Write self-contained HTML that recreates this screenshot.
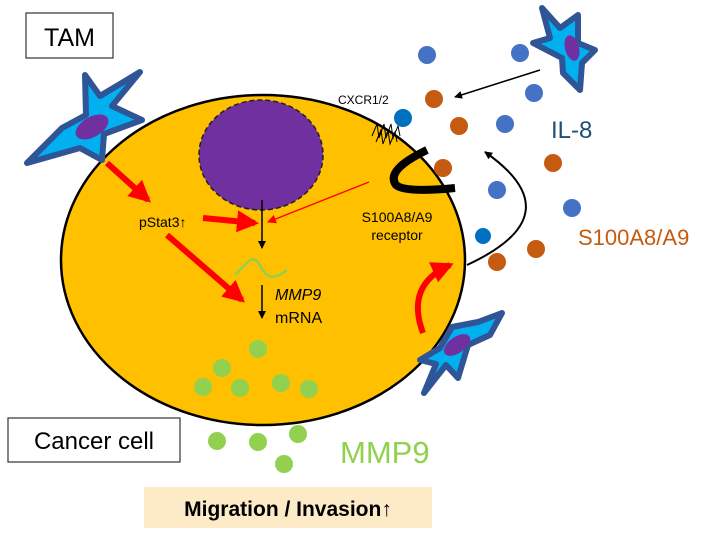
<!DOCTYPE html>
<html><head><meta charset="utf-8"><style>
html,body{margin:0;padding:0;background:#fff;}
svg{display:block;font-family:"Liberation Sans",Arial,sans-serif;}
</style></head><body>
<svg width="715" height="535" viewBox="0 0 715 535" xmlns="http://www.w3.org/2000/svg">
<defs>
<marker id="ab" markerWidth="8" markerHeight="8" refX="7" refY="4" orient="auto" markerUnits="userSpaceOnUse"><path d="M0,0 L8,4 L0,8 z" fill="#000"/></marker>
<marker id="ar" markerWidth="22" markerHeight="22" refX="18" refY="11" orient="auto" markerUnits="userSpaceOnUse"><path d="M0,0 L22,11 L0,22 z" fill="#f00"/></marker>
<marker id="ars" markerWidth="9" markerHeight="9" refX="8" refY="4.5" orient="auto" markerUnits="userSpaceOnUse"><path d="M0,0 L9,4.5 L0,9 z" fill="#f00"/></marker>
</defs>
<!-- TAM box -->
<rect x="26" y="13" width="87" height="45" fill="#fff" stroke="#333" stroke-width="1.2"/>
<text x="69.5" y="46" font-size="25" text-anchor="middle">TAM</text>
<!-- cell -->
<ellipse cx="263" cy="260" rx="202" ry="165" fill="#ffc000" stroke="#000" stroke-width="2.5"/>
<ellipse cx="261" cy="155" rx="62" ry="55" fill="#7030a0" stroke="#222" stroke-width="1.5" stroke-dasharray="5,3"/>
<!-- TAM top-left -->
<polygon points="27,163 62,128 86,115 85,75 100,96 140,72 112,106 142,120 104,134 102,160 80,148" fill="#00b0f0" stroke="#2f5597" stroke-width="6" stroke-linejoin="round"/>
<ellipse cx="92" cy="127" rx="18" ry="10" transform="rotate(-30 92 127)" fill="#7030a0"/>
<!-- TAM top-right -->
<polygon points="542,8 560,28 578,15 578,43 595,50 582,63 580,90 563,73 562,58 533,43 550,38" fill="#00b0f0" stroke="#2f5597" stroke-width="6" stroke-linejoin="round"/>
<ellipse cx="572" cy="48" rx="7" ry="13" transform="rotate(-15 572 48)" fill="#7030a0"/>
<!-- TAM bottom-right -->
<polygon points="502,313 490,335 468,345 458,378 446,365 424,393 436,364 420,360 440,348 452,327 478,322" fill="#00b0f0" stroke="#2f5597" stroke-width="6" stroke-linejoin="round"/>
<ellipse cx="457" cy="345" rx="15" ry="8" transform="rotate(-35 457 345)" fill="#7030a0"/>
<!-- red arrows -->
<line x1="107" y1="163" x2="148" y2="200" stroke="#f00" stroke-width="6" marker-end="url(#ar)"/>
<line x1="203" y1="218" x2="255" y2="223" stroke="#f00" stroke-width="6" marker-end="url(#ar)"/>
<line x1="167" y1="235" x2="242" y2="300" stroke="#f00" stroke-width="6" marker-end="url(#ar)"/>
<line x1="369" y1="182" x2="268" y2="222" stroke="#f00" stroke-width="1.3" marker-end="url(#ars)"/>
<path d="M423,333 Q405,285 450,265" fill="none" stroke="#f00" stroke-width="6" marker-end="url(#ar)"/>
<!-- black arrows -->
<line x1="262" y1="200" x2="262" y2="248" stroke="#000" stroke-width="1.5" marker-end="url(#ab)"/>
<line x1="262" y1="285" x2="262" y2="318" stroke="#000" stroke-width="1.5" marker-end="url(#ab)"/>
<line x1="540" y1="70" x2="455" y2="97" stroke="#000" stroke-width="1.5" marker-end="url(#ab)"/>
<path d="M467,265 Q575,215 485,152" fill="none" stroke="#000" stroke-width="2" marker-end="url(#ab)"/>
<!-- green wave -->
<path d="M235,275 C248,262 252,255 258,262 C264,272 268,285 287,270" fill="none" stroke="#92d050" stroke-width="2.5"/>
<!-- texts -->
<text x="139" y="227" font-size="14">pStat3↑</text>
<text x="275" y="300" font-size="16" font-style="italic">MMP9</text>
<text x="275" y="323" font-size="16">mRNA</text>
<text x="397" y="222" font-size="14" text-anchor="middle">S100A8/A9</text>
<text x="397" y="240" font-size="14" text-anchor="middle">receptor</text>
<text x="338" y="104" font-size="12">CXCR1/2</text>
<text x="551" y="138" font-size="24" fill="#1f4e79">IL-8</text>
<text x="578" y="245" font-size="22" fill="#c55a11">S100A8/A9</text>
<text x="340" y="463" font-size="31" fill="#92d050">MMP9</text>
<!-- receptor springs -->
<path d="M372,136 l5,-12 l2,14 l5,-14 l2,14 l5,-14 l2,14 l5,-12 l2,10" fill="none" stroke="#000" stroke-width="1"/>
<path d="M376,142 l5,-12 l2,14 l5,-14 l2,14 l5,-12 l2,10" fill="none" stroke="#000" stroke-width="1"/>
<!-- S100 receptor -->
<path d="M427,150 Q385,170 396,185 Q405,193 455,188" fill="none" stroke="#000" stroke-width="8"/>
<!-- dots -->
<g fill="#4472c4">
<circle cx="427" cy="55" r="9"/><circle cx="520" cy="53" r="9"/><circle cx="534" cy="93" r="9"/><circle cx="505" cy="124" r="9"/><circle cx="497" cy="190" r="9"/><circle cx="572" cy="208" r="9"/>
</g>
<g fill="#0070c0"><circle cx="403" cy="118" r="9"/><circle cx="483" cy="236" r="8"/></g>
<g fill="#c55a11">
<circle cx="434" cy="99" r="9"/><circle cx="459" cy="126" r="9"/><circle cx="443" cy="168" r="9"/><circle cx="553" cy="163" r="9"/><circle cx="536" cy="249" r="9"/><circle cx="497" cy="262" r="9"/>
</g>
<g fill="#92d050">
<circle cx="258" cy="349" r="9"/><circle cx="222" cy="368" r="9"/><circle cx="240" cy="388" r="9"/><circle cx="203" cy="387" r="9"/><circle cx="281" cy="383" r="9"/><circle cx="309" cy="389" r="9"/>
<circle cx="217" cy="441" r="9"/><circle cx="258" cy="442" r="9"/><circle cx="298" cy="434" r="9"/><circle cx="284" cy="464" r="9"/>
</g>
<!-- cancer cell box -->
<rect x="8" y="418" width="172" height="44" fill="#fff" stroke="#333" stroke-width="1.2"/>
<text x="94" y="449" font-size="24" text-anchor="middle">Cancer cell</text>
<!-- migration -->
<rect x="144" y="487" width="288" height="41" fill="#fdebc8"/>
<text x="288" y="516" font-size="21" font-weight="bold" text-anchor="middle">Migration / Invasion↑</text>
</svg>
</body></html>
